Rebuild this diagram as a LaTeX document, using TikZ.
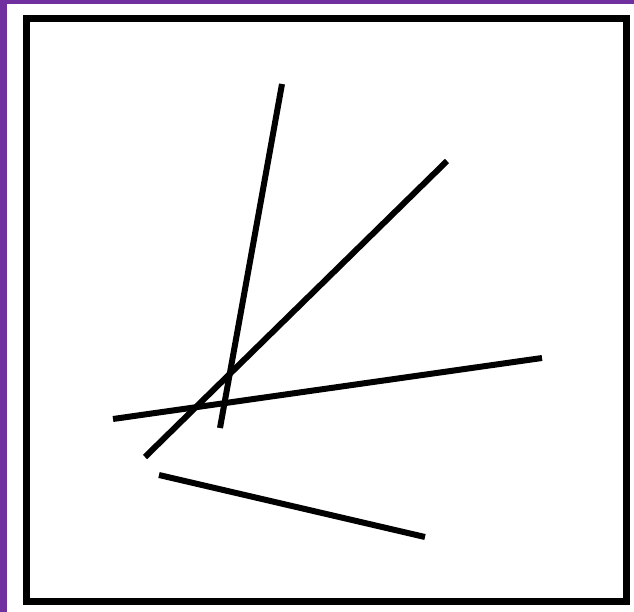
\documentclass[tikz,border=0pt]{standalone}
\definecolor{frameviolet}{HTML}{7030A0}
\begin{document}
\begin{tikzpicture}[x=1pt,y=-1pt,
  seg/.style={line width=6pt,black},
  boxline/.style={line width=7pt,black}]
\useasboundingbox (0,0) rectangle (634,612);
\fill[white] (0,0) rectangle (634,612);
\fill[frameviolet] (0,0) rectangle (7,612);
\fill[frameviolet] (0,0) rectangle (634,4);
\draw[boxline] (26.5,18.5) rectangle (626,601);
\coordinate (a1) at (282,84);
\coordinate (a2) at (220,428);
\coordinate (b1) at (447,161);
\coordinate (b2) at (145,457);
\coordinate (c1) at (113,419);
\coordinate (c2) at (542,358);
\coordinate (d1) at (159,475);
\coordinate (d2) at (425,537);
\draw[seg] (a1) -- (a2);
\draw[seg] (b1) -- (b2);
\draw[seg] (c1) -- (c2);
\draw[seg] (d1) -- (d2);
\end{tikzpicture}
\end{document}
